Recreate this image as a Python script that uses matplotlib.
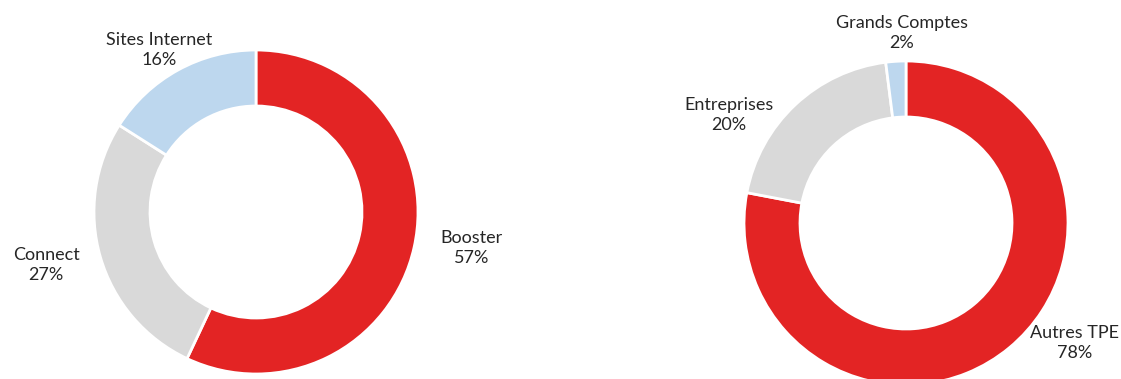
import matplotlib
matplotlib.use("Agg")
import matplotlib.pyplot as plt

plt.rcParams['font.family'] = ['Lato', 'DejaVu Sans']

# left donut
left_labels = ["Booster", "Connect", "Sites Internet"]
left_values = [57, 27, 16]

# right donut
right_labels = ["Autres TPE", "Entreprises", "Grands Comptes"]
right_values = [78, 20, 2]

colors = ["#E32424", "#D9D9D9", "#BDD7EE"]

W, H = 1121, 379
fig = plt.figure(figsize=(W / 100, H / 100), dpi=100)
ax = fig.add_axes([0, 0, 1, 1])

radius = 162
width = 56

# pixel centres of each donut and label offsets from the centre
left_center = (256, H - 212)
right_center = (906, H - 223)
left_offsets = [(216, -36), (-210, -53), (-97, 162)]
right_offsets = [(169, -120), (-177, 108), (-4, 190)]


def donut(center, values, labels, offsets):
    ax.pie(values, colors=colors, startangle=90, counterclock=False,
           center=center, radius=radius, frame=True,
           wedgeprops=dict(width=width, edgecolor="white", linewidth=2))
    for lab, val, (dx, dy) in zip(labels, values, offsets):
        ax.text(center[0] + dx, center[1] + dy, f"{lab}\n{val}%",
                ha="center", va="center", fontsize=13, color="#262626",
                linespacing=1.3)


donut(left_center, left_values, left_labels, left_offsets)
donut(right_center, right_values, right_labels, right_offsets)

ax.set_xlim(0, W)
ax.set_ylim(0, H)
ax.set_aspect("equal")
ax.axis("off")

fig.savefig("out.png", dpi=100)
